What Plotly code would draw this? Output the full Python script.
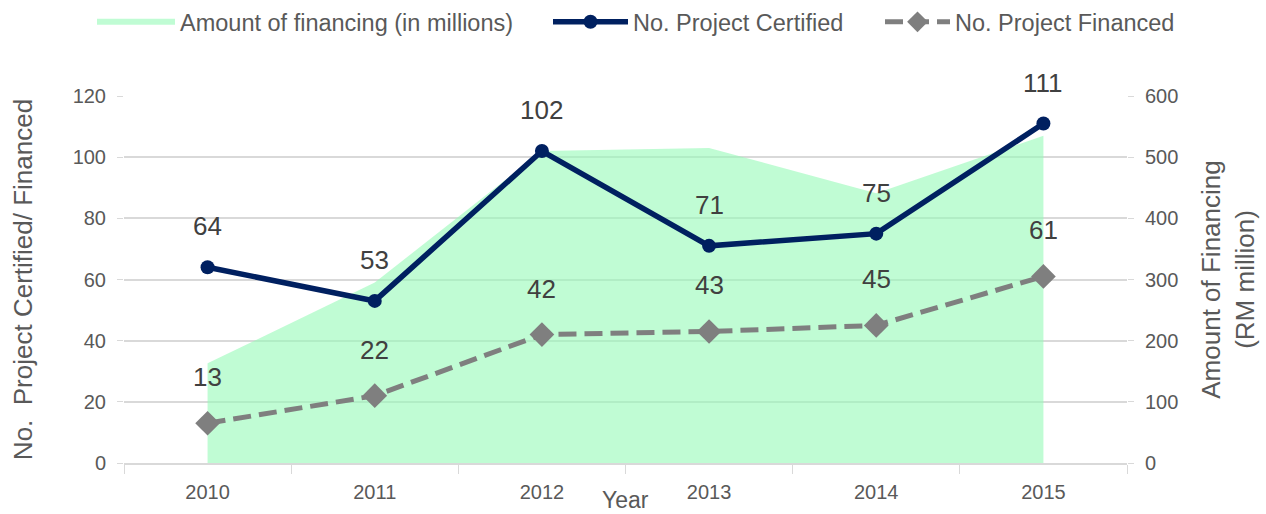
import plotly.graph_objects as go

years = ["2010", "2011", "2012", "2013", "2014", "2015"]
financing_amount = [163, 295, 510, 515, 441, 535]
projects_certified = [64, 53, 102, 71, 75, 111]
projects_financed = [13, 22, 42, 43, 45, 61]

FONT = "Liberation Sans, Arial, sans-serif"
GRAY_TXT = "#595959"
LABEL_TXT = "#404040"
NAVY = "#002060"
DASH_GRAY = "#7f7f7f"

fig = go.Figure()

fig.add_trace(go.Scatter(
    x=years, y=financing_amount, name="Amount of financing (in millions)",
    mode="none", fill="tozeroy", fillcolor="rgba(150,250,183,0.6)",
    yaxis="y", hoverinfo="skip", legend="legend",
))
fig.add_trace(go.Scatter(
    x=years, y=projects_certified, name="No. Project Certified",
    mode="lines+markers", line=dict(color=NAVY, width=5.5),
    marker=dict(symbol="circle", size=14, color=NAVY),
    yaxis="y2", legend="legend2",
))
fig.add_trace(go.Scatter(
    x=years, y=projects_financed, name="No. Project Financed",
    mode="lines+markers", line=dict(color=DASH_GRAY, width=5, dash="18px,8px"),
    marker=dict(symbol="diamond", size=19, color=DASH_GRAY),
    yaxis="y2", legend="legend3",
))

annotations = []
for i, v in enumerate(projects_certified):
    annotations.append(dict(x=i, y=v, xref="x", yref="y2", text=str(v),
                            showarrow=False, yshift=41,
                            font=dict(family=FONT, size=26, color=LABEL_TXT)))
for i, v in enumerate(projects_financed):
    annotations.append(dict(x=i, y=v, xref="x", yref="y2", text=str(v),
                            showarrow=False, yshift=46,
                            font=dict(family=FONT, size=26, color=LABEL_TXT)))
annotations.append(dict(x=0.5, y=0, xref="paper", yref="paper", text="Year",
                        showarrow=False, yshift=-37, yanchor="middle",
                        font=dict(family=FONT, size=23, color=GRAY_TXT)))


def legend_at(x_px, iw):
    return dict(orientation="h", x=x_px / 1266, xref="container", xanchor="left",
                y=1 - 22 / 514, yref="container", yanchor="middle",
                font=dict(family=FONT, size=23.5, color=GRAY_TXT),
                itemwidth=iw, bgcolor="rgba(0,0,0,0)")


fig.update_layout(
    width=1266, height=514,
    margin=dict(l=124, r=139, t=96, b=51, autoexpand=False),
    paper_bgcolor="white", plot_bgcolor="white",
    font=dict(family=FONT, color=GRAY_TXT),
    showlegend=True,
    legend=legend_at(92, 78),
    legend2=legend_at(548, 75),
    legend3=legend_at(880, 65),
    xaxis=dict(
        type="category", range=[-0.5, 5.5], automargin=False,
        showgrid=False, zeroline=False,
        showline=True, linecolor="#d9d9d9", linewidth=1.5,
        ticks="outside", tickson="boundaries", ticklen=9, tickcolor="#d9d9d9",
        tickfont=dict(family=FONT, size=20, color=GRAY_TXT),
        ticklabelstandoff=10,
    ),
    yaxis=dict(
        side="right", range=[0, 600], dtick=100, automargin=False,
        showgrid=True, gridcolor="#d9d9d9", gridwidth=1.5,
        zeroline=False, showline=False,
        ticks="outside", ticklen=6, tickcolor="#d9d9d9",
        tickfont=dict(family=FONT, size=20, color=GRAY_TXT),
        ticklabelstandoff=7,
        title=dict(text="Amount of Financing<br>(RM million)", standoff=24,
                   font=dict(family=FONT, size=26, color=GRAY_TXT)),
    ),
    yaxis2=dict(
        overlaying="y", side="left", range=[0, 120], dtick=20, automargin=False,
        showgrid=False, zeroline=False, showline=False,
        ticks="outside", ticklen=6, tickcolor="#d9d9d9",
        tickfont=dict(family=FONT, size=20, color=GRAY_TXT),
        ticklabelstandoff=7,
        title=dict(text="No.  Project Certified/ Financed", standoff=32,
                   font=dict(family=FONT, size=26, color=GRAY_TXT)),
    ),
    annotations=annotations,
)

fig.write_html("out.html", config={"displayModeBar": False},
               post_script="document.body.style.margin='0';")
